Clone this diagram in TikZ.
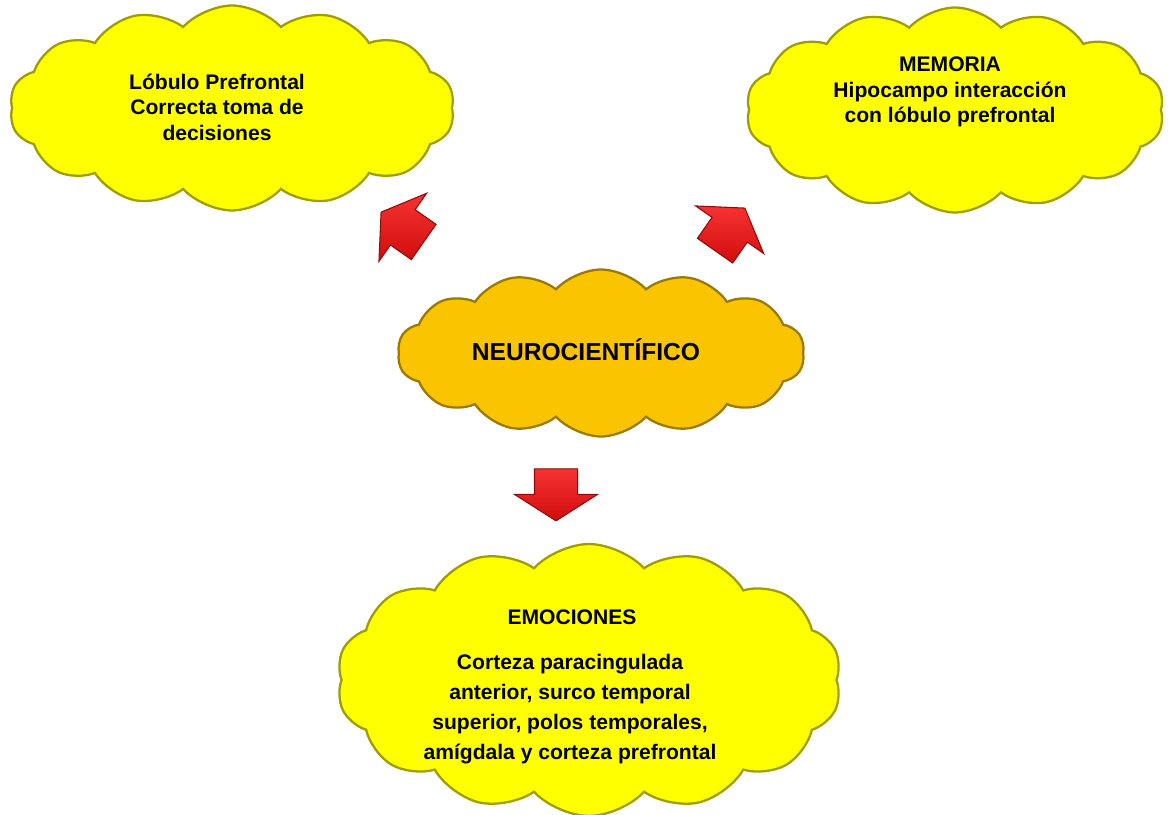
\documentclass[tikz,border=0pt]{standalone}
\usepackage{fontspec}
\setmainfont{Liberation Sans}
\usetikzlibrary{shapes.symbols,shapes.arrows}
\definecolor{cloudyellow}{RGB}{255,255,0}
\definecolor{cloudgold}{RGB}{250,196,0}
\definecolor{arrowred}{RGB}{245,15,15}

\begin{document}
\begin{tikzpicture}[x=0.02cm,y=0.02cm,
  cloudbox/.style={cloud, cloud puffs=14, cloud puff arc=95, cloud ignores aspect,
    fill=#1, draw=#1!62!black, line width=1.3pt, inner sep=0pt},
  blockarrow/.style={single arrow, single arrow head extend=0.4cm, single arrow tip angle=115,
    minimum height=1.04cm, inner xsep=0pt, inner ysep=0.42cm,
    top color=arrowred!85!white, bottom color=arrowred!85!black, draw=arrowred!60!black, line width=0.6pt},
  cloudtext/.style={align=center, font=\bfseries\fontsize{12}{14.5}\selectfont}]
  \useasboundingbox (0,0) rectangle (1172,814);

  % ── Clouds ──
  \node[cloudbox=cloudyellow, minimum width=8.9cm, minimum height=4.1cm] (prefrontal) at (232,706) {};
  \node[cloudbox=cloudyellow, minimum width=8.36cm, minimum height=4.1cm] (memoria) at (955,704) {};
  \node[cloudbox=cloudgold, minimum width=8.14cm, minimum height=3.34cm] (neuro) at (601,461) {};
  \node[cloudbox=cloudyellow, minimum width=10.1cm, minimum height=5.44cm] (emociones) at (589,134) {};

  % ── Cloud texts ──
  \node[cloudtext] (prefrontaltxt) at (217,707) {Lóbulo Prefrontal\\Correcta toma de\\decisiones};
  \node[cloudtext] (memoriatxt) at (950,722) {MEMORIA\\Hipocampo interacción\\con lóbulo prefrontal};
  \node[cloudtext, font=\bfseries\fontsize{14}{16}\selectfont] (neurotxt) at (586,464) {NEUROCIENTÍFICO};
  \node[cloudtext] (emocionestit) at (572,197) {EMOCIONES};
  \node[cloudtext, font=\bfseries\fontsize{12}{17}\selectfont] (emocionestxt) at (570,105)
    {Corteza paracingulada\\anterior, surco temporal\\superior, polos temporales,\\amígdala y corteza prefrontal};

  % ── Block arrows ──
  \node[blockarrow, rotate=145] (toprefrontal) at (408,583) {};
  \node[blockarrow, rotate=55] (tomemoria) at (726,579) {};
  \node[blockarrow, rotate=-90] (toemociones) at (556,326) {};
\end{tikzpicture}
\end{document}
